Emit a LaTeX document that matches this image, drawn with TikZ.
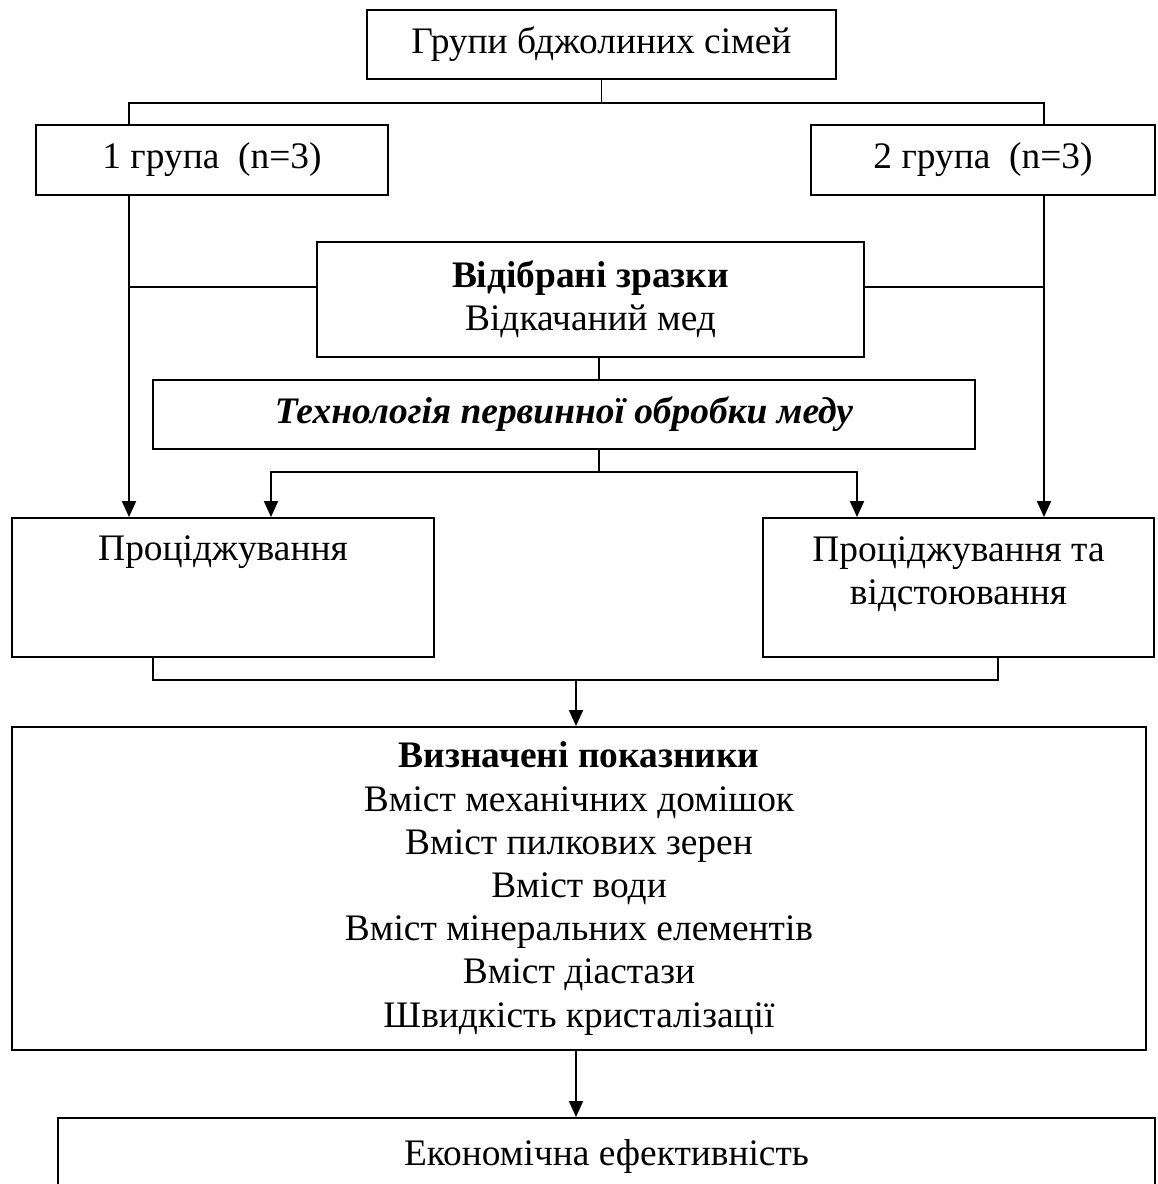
\documentclass[tikz,border=0pt]{standalone}
\usepackage{fontspec}
\setmainfont{Liberation Serif}
\usepackage{tikz}
\usetikzlibrary{positioning,calc,arrows.meta}
\newcommand{\boxFont}{\fontsize{21.3}{24.6}\selectfont}
\tikzset{
  plainBox/.style={
    rectangle,
    draw=black,
    line width=1.1pt,
    inner sep=0pt,
    align=center,
    font=\boxFont
 },
  boxText/.style={
    inner sep=0pt,
    align=center,
    font=\boxFont
 },
  lineConn/.style={
    line width=1.1pt,
    color=black
 },
  arrowLine/.style={
    -{Triangle[length=3.2mm,width=2.8mm]},
    line width=1.1pt,
    color=black
 }
}

\begin{document}
\begin{tikzpicture}[x=0.02cm,y=-0.02cm]

            \useasboundingbox (0,0) rectangle (1157,1184);
            \clip (0,0) rectangle (1157,1184);

            % rails for the connectors
            \coordinate (leftRail) at (129,0);
            \coordinate (rightRail) at (1044,0);
            \coordinate (midRail) at (599,0);
            \coordinate (techL) at (271,0);
            \coordinate (techR) at (857,0);
            \coordinate (outL) at (153,0);
            \coordinate (outR) at (998,0);
            \coordinate (topJoin) at (601.5,103);
            \coordinate (sideJoin) at (0,287);
            \coordinate (techJoin) at (599,472);
            \coordinate (outJoin) at (576,680);

            % groups of colonies on top
            \node[plainBox, minimum width=9.38cm, minimum height=1.38cm] (top) at (601.5,44.5) {Групи бджолиних сімей};
            \node[plainBox, minimum width=7.04cm, minimum height=1.40cm] (g1) at (212,160) {1 група\ \ (n=3)};
            \node[plainBox, minimum width=6.88cm, minimum height=1.40cm] (g2) at (983,160) {2 група\ \ (n=3)};
            \draw[lineConn] (top.south) -- (topJoin) -| (g1.north -| leftRail);
            \draw[lineConn] (topJoin) -| (g2.north -| rightRail);

            % samples and processing
            \node[plainBox, minimum width=10.94cm, minimum height=2.30cm] (sample) at (590.5,299.5) {\textbf{Відібрані зразки}\\Відкачаний мед};
            \node[plainBox, minimum width=16.44cm, minimum height=1.38cm] (tech) at (564,414.5) {\textbf{\textit{Технологія первинної обробки меду}}};
            \draw[lineConn] (sideJoin -| sample.west) -- (sideJoin -| leftRail);
            \draw[lineConn] (sideJoin -| sample.east) -- (sideJoin -| rightRail);
            \draw[lineConn] (sample.south -| midRail) -- (tech.north -| midRail);

            % straining boxes
            \node[plainBox, minimum width=8.44cm, minimum height=2.78cm] (p1) at (223,587.5) {};
            \node[boxText, below=0.36cm of p1.north] (p1Text) {Проціджування};
            \node[plainBox, minimum width=7.82cm, minimum height=2.78cm] (p2) at (958.5,587.5) {};
            \node[boxText, below=0.38cm of p2.north] (p2Text) {Проціджування та\\відстоювання};
            \draw[lineConn] (tech.south -| techJoin) -- (techJoin);
            \draw[arrowLine] (techJoin) -| (p1.north -| techL);
            \draw[arrowLine] (techJoin) -| (p2.north -| techR);
            \draw[arrowLine] (g1.south -| leftRail) -- (p1.north -| leftRail);
            \draw[arrowLine] (g2.south -| rightRail) -- (p2.north -| rightRail);

            % indicators
            \node[plainBox, minimum width=22.68cm, minimum height=6.46cm] (ind) at (579,888.5) {\textbf{Визначені показники}\\Вміст механічних домішок\\Вміст пилкових зерен\\Вміст води\\Вміст мінеральних елементів\\Вміст діастази\\Швидкість кристалізації};
            \draw[lineConn] (p1.south -| outL) |- (outJoin) -| (p2.south -| outR);
            \draw[arrowLine] (outJoin) -- (ind.north -| outJoin);

            % economy at the bottom
            \node[plainBox, minimum width=21.94cm, minimum height=1.52cm] (econ) at (606.5,1156) {Економічна ефективність};
            \draw[arrowLine] (ind.south -| outJoin) -- (econ.north -| outJoin);

        \end{tikzpicture}
\end{document}
